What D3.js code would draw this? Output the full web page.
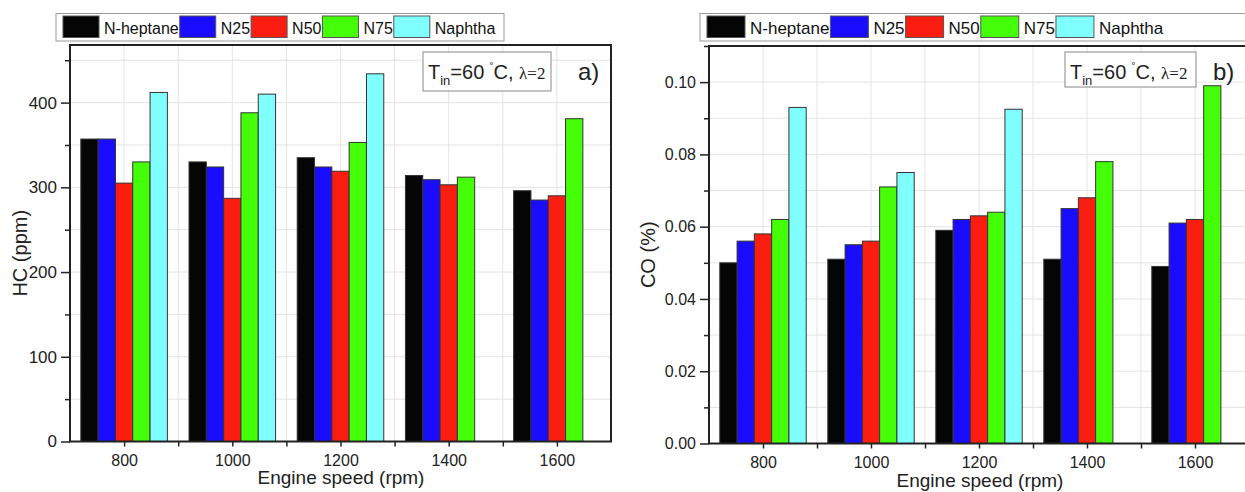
<!DOCTYPE html>
<html>
<head>
<meta charset="utf-8">
<script src="https://cdn.jsdelivr.net/npm/d3@7"></script>
<style>
  body { margin: 0; background: #fff; }
  svg { font-family: "Liberation Sans", Arial, sans-serif; }
</style>
</head>
<body>
<svg id="chart" width="1245" height="492"></svg>
<script>
// engine speeds on the x axis
const speeds = [800, 1000, 1200, 1400, 1600];
const fuels = ["N-heptane", "N25", "N50", "N75", "Naphtha"];
const fuelColors = ["#050505", "#1a0dff", "#fb1e10", "#44ff08", "#80ffff"];

// HC (ppm), panel a)
const hcNheptane = [357, 330, 335, 314, 296];
const hcN25 = [357, 324, 324, 309, 285];
const hcN50 = [305, 287, 319, 303, 290];
const hcN75 = [330, 388, 353, 312, 381];
const hcNaphtha = [412, 410, 434, null, null];

// CO (%), panel b)
const coNheptane = [0.050, 0.051, 0.059, 0.051, 0.049];
const coN25 = [0.056, 0.055, 0.062, 0.065, 0.061];
const coN50 = [0.058, 0.056, 0.063, 0.068, 0.062];
const coN75 = [0.062, 0.071, 0.064, 0.078, 0.099];
const coNaphtha = [0.093, 0.075, 0.0925, null, null];

const hcTicks = [0, 100, 200, 300, 400];
const coTicks = [0, 0.02, 0.04, 0.06, 0.08, 0.10];

const svg = d3.select("#chart");

function drawPanel(p) {
  let x = d3.scaleLinear().domain([700, 1700]).range([p.left, p.right]);
  let y = d3.scaleLinear().domain([0, p.yMax]).range([p.bottom, p.top]);
  let inner = d3.scaleBand().domain(fuels).range([-80, 80]);

  let g = svg.append("g");

  // grid (major + minor)
  let gx = d3.range(700, 1701, 100);
  g.selectAll(".vg").data(gx).enter().append("line")
    .attr("x1", d => x(d)).attr("x2", d => x(d))
    .attr("y1", p.top).attr("y2", p.bottom)
    .attr("stroke", "#e3e3e3").attr("stroke-width", 1);
  let gy = d3.range(0, p.yMax + p.minor * 0.01, p.minor);
  g.selectAll(".hg").data(gy).enter().append("line")
    .attr("x1", p.left).attr("x2", p.right)
    .attr("y1", d => y(d)).attr("y2", d => y(d))
    .attr("stroke", "#e3e3e3").attr("stroke-width", 1);

  // bars
  p.series.forEach((vals, si) => {
    g.selectAll(".b" + si).data(speeds.map((s, i) => ({s: s, v: vals[i]})).filter(d => d.v != null))
      .enter().append("rect")
      .attr("x", d => x(d.s + inner(fuels[si])))
      .attr("width", d => x(d.s + inner(fuels[si]) + inner.bandwidth()) - x(d.s + inner(fuels[si])))
      .attr("y", d => y(d.v))
      .attr("height", d => y(0) - y(d.v))
      .attr("fill", fuelColors[si])
      .attr("stroke", "#333")
      .attr("stroke-width", 1);
  });

  // axes
  let yAxis = d3.axisLeft(y).tickValues(p.yTicks).tickFormat(p.fmt).tickSize(9).tickPadding(4);
  let ya = g.append("g").attr("transform", `translate(${p.left},0)`).call(yAxis);
  let yMinor = d3.axisLeft(y).tickValues(gy.filter(v => !p.yTicks.some(t => Math.abs(t - v) < 1e-9)))
    .tickFormat("").tickSize(5);
  g.append("g").attr("transform", `translate(${p.left},0)`).call(yMinor);

  let xAxis = d3.axisBottom(x).tickValues(speeds).tickFormat(d3.format("d")).tickSize(5).tickPadding(8);
  let xa = g.append("g").attr("transform", `translate(0,${p.bottom})`).call(xAxis);
  let xMinor = d3.axisBottom(x).tickValues([900, 1100, 1300, 1500]).tickFormat("").tickSize(5);
  g.append("g").attr("transform", `translate(0,${p.bottom})`).call(xMinor);

  g.selectAll(".domain").remove();
  g.selectAll(".tick line").attr("stroke", "#222").attr("stroke-width", 1.5);
  ya.selectAll("text").style("font-size", p.yFont + "px").attr("fill", "#222");
  xa.selectAll("text").style("font-size", "16px").attr("fill", "#222");

  // frame
  g.append("rect")
    .attr("x", p.left).attr("y", p.top)
    .attr("width", p.right - p.left).attr("height", p.bottom - p.top)
    .attr("fill", "none").attr("stroke", "#222").attr("stroke-width", 2);

  // axis titles
  g.append("text")
    .attr("transform", `translate(${p.yTitleX},${(p.top + p.bottom) / 2 + 10}) rotate(-90)`)
    .attr("text-anchor", "middle").style("font-size", "20px").attr("fill", "#222")
    .text(p.yTitle);
  g.append("text")
    .attr("x", p.xTitleX).attr("y", p.xTitleY)
    .attr("text-anchor", "middle").style("font-size", "19px").attr("fill", "#222")
    .text("Engine speed (rpm)");

  // annotation box
  g.append("rect")
    .attr("x", p.noteX).attr("y", 52).attr("width", p.noteW).attr("height", p.noteH)
    .attr("fill", "#fff").attr("stroke", "#888").attr("stroke-width", 1);
  let t = g.append("text").attr("x", p.noteX + 5).attr("y", 79)
    .style("font-size", "20px").attr("fill", "#222");
  t.append("tspan").text("T");
  t.append("tspan").attr("dy", 6).style("font-size", "13px").text("in");
  t.append("tspan").attr("dy", -6).text("=60 ");
  t.append("tspan").attr("dy", -8).style("font-size", "11px").text("˚");
  t.append("tspan").attr("dy", 8).text("C, ");
  t.append("tspan").style("font-family", "'Liberation Serif', serif").style("font-size", "17px").text("λ=2");

  g.append("text").attr("x", p.tagX).attr("y", 80)
    .style("font-size", "24px").attr("fill", "#222").text(p.tag);

  // legend
  let lg = svg.append("g");
  lg.append("rect")
    .attr("x", p.legX).attr("y", 13.5).attr("width", p.legW).attr("height", 27.5)
    .attr("fill", "#fff").attr("stroke", "#999").attr("stroke-width", 1);
  let cx = p.legX + 7;
  fuels.forEach((f, i) => {
    lg.append("rect")
      .attr("x", cx).attr("y", 16).attr("width", p.swW).attr("height", 21.5)
      .attr("fill", fuelColors[i]).attr("stroke", "#555").attr("stroke-width", 1);
    let tx = lg.append("text")
      .attr("x", cx + p.swW + 5).attr("y", 33.5)
      .style("font-size", p.legFont + "px").attr("fill", "#111").text(f);
    cx = cx + p.swW + 5 + tx.node().getComputedTextLength() + 1;
  });
}

drawPanel({
  left: 70, right: 611, top: 45, bottom: 441.5, yMax: 468, minor: 50,
  yTicks: hcTicks, fmt: d3.format("d"), yFont: 17,
  series: [hcNheptane, hcN25, hcN50, hcN75, hcNaphtha],
  yTitle: "HC (ppm)", yTitleX: 27, xTitleX: 341, xTitleY: 484,
  noteX: 423, noteW: 128, noteH: 39, tag: "a)", tagX: 578,
  legX: 56, legW: 448, swW: 36, legFont: 16
});

drawPanel({
  left: 709, right: 1249, top: 46, bottom: 443.5, yMax: 0.11, minor: 0.01,
  yTicks: coTicks, fmt: d3.format(".2f"), yFont: 16,
  series: [coNheptane, coN25, coN50, coN75, coNaphtha],
  yTitle: "CO (%)", yTitleX: 655, xTitleX: 980, xTitleY: 487,
  noteX: 1065, noteW: 131, noteH: 35, tag: "b)", tagX: 1213,
  legX: 700, legW: 560, swW: 38, legFont: 17
});
</script>
</body>
</html>
